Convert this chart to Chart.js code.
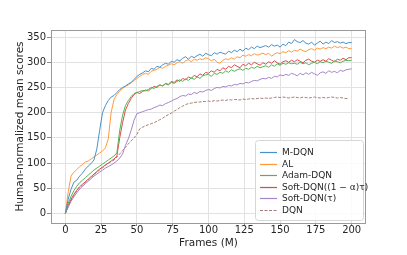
<!DOCTYPE html>
<html>
<head>
<meta charset="utf-8">
<script src="https://cdn.jsdelivr.net/npm/chart.js@4/dist/chart.umd.min.js"></script>
<style>
  html, body { margin: 0; padding: 0; background: #fff; }
  #wrap { width: 407px; height: 255px; }
</style>
</head>
<body>
<div id="wrap"><canvas id="myChart"></canvas></div>
<script>
// frames in millions, one sample every 2M
const frames = Array.from({ length: 101 }, (_, i) => i * 2);
const xTicks = [0, 25, 50, 75, 100, 125, 150, 175, 200];
const yTicks = [0, 50, 100, 150, 200, 250, 300, 350];

const names = ['M-DQN', 'AL', 'Adam-DQN', 'Soft-DQN((1 \u2212 \u03b1)\u03c4)', 'Soft-DQN(\u03c4)', 'DQN'];

const mdqn = [
  0, 28, 48, 62, 66, 74, 80, 88, 94, 99,
  106, 128, 165, 200, 214, 224, 231, 234, 240, 246,
  250, 253, 257, 260, 266, 272, 276, 279, 283, 281,
  288, 286, 292, 290, 295, 298, 296, 302, 300, 305,
  303, 308, 311, 306, 312, 309, 313, 316, 312, 318,
  315, 313, 319, 316, 320, 318, 316, 322, 319, 324,
  321, 326, 322, 328, 325, 330, 327, 332, 329, 331,
  333, 330, 335, 332, 334, 330, 336, 333, 340, 337,
  345, 341, 339, 343, 338, 336, 340, 334, 338, 342,
  336, 340, 337, 343, 339, 341, 338, 340, 337, 339,
  339
];
const al = [
  0, 42, 74, 82, 87, 93, 97, 102, 104, 108,
  112, 116, 120, 124, 130, 148, 200, 226, 236, 243,
  248, 252, 255, 259, 264, 268, 272, 276, 278, 276,
  282, 284, 286, 290, 288, 292, 294, 297, 295, 299,
  301, 298, 303, 305, 301, 306, 304, 307, 305, 309,
  307, 303, 306, 300, 298, 304, 307, 305, 309, 306,
  311, 309, 314, 312, 315, 313, 317, 314, 316, 318,
  315, 318, 312, 316, 319, 317, 321, 319, 323, 320,
  324, 322, 326, 323, 321, 325, 327, 324, 328, 326,
  329, 327, 330, 328, 332, 329, 331, 328, 330, 327,
  327
];
const adam = [
  0, 20, 34, 45, 54, 61, 66, 71, 76, 81,
  86, 90, 94, 98, 102, 106, 110, 114, 120, 165,
  195, 214, 224, 232, 238, 240, 242, 244, 243, 246,
  250, 248, 252, 255, 253, 257, 255, 260, 258, 262,
  265, 262, 267, 264, 269, 266, 271, 268, 273, 275,
  276, 272, 278, 276, 280, 278, 283, 280, 285, 282,
  285, 287, 284, 288, 286, 290, 288, 292, 289, 291,
  293, 290, 295, 292, 297, 294, 298, 296, 299, 297,
  298, 296, 300, 297, 299, 295, 298, 300, 297, 301,
  299, 302, 300, 298, 303, 301, 299, 302, 304, 303,
  304
];
const softAlpha = [
  0, 16, 28, 38, 46, 53, 58, 63, 68, 73,
  78, 83, 88, 92, 96, 100, 104, 108, 114, 150,
  180, 205, 218, 228, 236, 240, 238, 242, 245, 243,
  248, 252, 250, 255, 253, 258, 256, 262, 260, 265,
  262, 268, 265, 271, 268, 274, 271, 277, 274, 280,
  278, 283, 280, 286, 283, 289, 286, 292, 289, 295,
  292, 289, 296, 293, 298, 295, 300, 297, 294, 299,
  296, 301, 298, 303, 299, 296, 301, 303, 300, 304,
  301, 305, 302, 299, 304, 306, 302, 300, 304, 302,
  305, 302, 307, 304, 301, 306, 304, 308, 305, 309,
  309
];
const softTau = [
  0, 12, 24, 33, 41, 48, 54, 59, 64, 69,
  74, 78, 82, 86, 90, 93, 96, 100, 104, 110,
  118, 135, 148, 165, 185, 198, 200, 202, 204, 206,
  207, 210, 212, 215, 214, 218, 220, 223, 226, 228,
  232, 234, 233, 237, 236, 240, 238, 242, 241, 244,
  246, 244, 248, 250, 249, 252, 251, 254, 253, 256,
  255, 258, 257, 260, 259, 262, 264, 263, 266, 268,
  267, 270, 268, 272, 271, 275, 273, 276, 274, 278,
  276, 273, 278, 275, 279, 276, 280, 277, 274, 279,
  281, 278, 283, 280, 282, 279, 284, 282, 285, 286,
  287
];
const dqn = [
  0, 14, 26, 36, 44, 51, 56, 61, 66, 71,
  77, 82, 86, 90, 96, 99, 103, 106, 112, 118,
  125, 131, 138, 144, 150, 157, 168, 171, 174, 176,
  178, 180, 183, 186, 189, 193, 196, 199, 203, 206,
  210, 213, 216, 218, 219, 220, 221, 221, 222, 222,
  223, 222, 224, 223, 224, 225, 224, 226, 225, 226,
  226, 225, 227, 226, 227, 228, 227, 228, 229, 228,
  229, 228, 229, 230, 231, 230, 231, 230, 229, 230,
  231, 230, 229, 231, 230, 229, 230, 231, 230, 229,
  230, 229, 230, 231, 230, 229, 230, 229, 228, 228,
  null
];

const seriesList = [mdqn, al, adam, softAlpha, softTau, dqn];
const colors = ['#4a90c8', '#ff9a3c', '#52b452', '#dc4a4b', '#a585c8', '#a57d72'];
const dashes = [[], [], [], [], [], [3, 1.5]];

const tickFont = { family: 'DejaVu Sans', size: 10 };
const titleFont = { family: 'DejaVu Sans', size: 10.5 };

// axes frame like matplotlib spines
const framePlugin = {
  id: 'frame',
  afterDraw(chart) {
    const a = chart.chartArea;
    const c = chart.ctx;
    c.save();
    c.strokeStyle = '#9a9a9a';
    c.lineWidth = 1;
    c.strokeRect(Math.round(a.left) + 0.5, Math.round(a.top) + 0.5,
      Math.round(a.right - a.left) - 1, Math.round(a.bottom - a.top));
    c.restore();
  }
};

// legend inside the plot, lower right
const legendBox = {
  id: 'legendBox',
  afterDraw(chart) {
    const a = chart.chartArea;
    const c = chart.ctx;
    const sets = chart.data.datasets;
    const w = 108, h = 80, rowH = 11.6;
    const x = Math.round(a.right - w - 3), y = Math.round(a.bottom - h - 3);
    c.save();
    c.fillStyle = 'rgba(255,255,255,0.85)';
    c.strokeStyle = '#d6d6d6';
    c.lineWidth = 1;
    c.beginPath();
    c.roundRect(x + 0.5, y + 0.5, w, h, 3);
    c.fill();
    c.stroke();
    c.font = '9px "DejaVu Sans"';
    c.textBaseline = 'middle';
    sets.forEach((ds, i) => {
      const ly = Math.round(y + 12 + i * rowH);
      c.strokeStyle = colors[i];
      c.lineWidth = 1.2;
      c.setLineDash(dashes[i]);
      c.beginPath();
      c.moveTo(x + 5, ly + 0.5);
      c.lineTo(x + 22, ly + 0.5);
      c.stroke();
      c.setLineDash([]);
      c.fillStyle = '#262626';
      c.fillText(ds.label, x + 27, ly + 1);
    });
    c.restore();
  }
};

const datasets = seriesList.map((s, i) => ({
  label: names[i],
  data: s,
  borderColor: colors[i],
  borderWidth: 1,
  borderDash: dashes[i],
  pointRadius: 0,
  tension: 0,
  fill: false,
  spanGaps: false
}));

new Chart(document.getElementById('myChart'), {
  type: 'line',
  data: { labels: frames, datasets: datasets },
  options: {
    responsive: true,
    maintainAspectRatio: false,
    animation: false,
    layout: { padding: { left: 0, right: 41, top: 30, bottom: 0 } },
    plugins: { legend: { display: false }, tooltip: { enabled: false } },
    scales: {
      x: {
        type: 'linear',
        min: -10,
        max: 210,
        afterBuildTicks: (scale) => { scale.ticks = xTicks.map(v => ({ value: v })); },
        afterFit: (scale) => { scale.height = 32; },
        ticks: { font: tickFont, color: '#262626', padding: -2, maxRotation: 0 },
        grid: { color: '#e2e2e2', tickLength: 3, tickColor: '#8a8a8a' },
        border: { display: false },
        title: { display: true, text: 'Frames (M)', font: titleFont, color: '#262626', padding: { top: 0, bottom: 5 } }
      },
      y: {
        min: -19,
        max: 364,
        afterBuildTicks: (scale) => { scale.ticks = yTicks.map(v => ({ value: v })); },
        afterFit: (scale) => { scale.width = 51; },
        ticks: { font: tickFont, color: '#262626', padding: 1 },
        grid: { color: '#e2e2e2', tickLength: 4, tickColor: '#8a8a8a' },
        border: { display: false },
        title: { display: true, text: 'Human-normalized mean scores', font: titleFont, color: '#262626', padding: { top: 14, bottom: 0 } }
      }
    }
  },
  plugins: [framePlugin, legendBox]
});
</script>
</body>
</html>
